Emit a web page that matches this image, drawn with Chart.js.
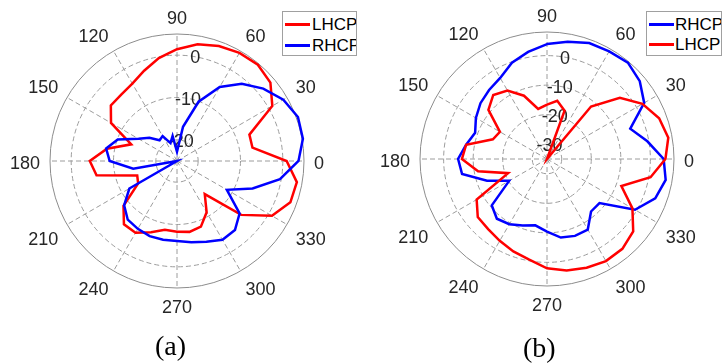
<!DOCTYPE html>
<html>
<head>
<meta charset="utf-8">
<script src="https://cdn.jsdelivr.net/npm/chart.js@4"></script>
<style>
  body { margin: 0; background: #fff; }
  #wrap { position: relative; width: 722px; height: 363px; overflow: hidden; font-family: "Liberation Sans", Arial, sans-serif; }
  canvas { position: absolute; top: 0; }
  .legend { position: absolute; background: #fff; border: 1px solid #a0a0a0; overflow: hidden; box-sizing: border-box; }
  .legend .ln { position: absolute; height: 3px; width: 25px; }
  .legend .tx { position: absolute; font-size: 17px; line-height: 17px; color: #000; white-space: nowrap; }
  .cap { position: absolute; font-family: "Liberation Serif", "Times New Roman", serif; font-size: 28px; line-height: 28px; color: #000; }
</style>
</head>
<body>
<div id="wrap">
  <canvas id="chartA" width="361" height="363" style="left:0"></canvas>
  <canvas id="chartB" width="361" height="363" style="left:361px"></canvas>

  <div class="legend" style="left:282px; top:11px; width:75px; height:45px;">
    <div class="ln" style="left:2px; top:11px; background:#ff0000"></div>
    <div class="tx" style="left:29px; top:4px">LHCP</div>
    <div class="ln" style="left:2px; top:32px; background:#0000ff"></div>
    <div class="tx" style="left:29px; top:25px">RHCP</div>
  </div>
  <div class="legend" style="left:646px; top:11px; width:76px; height:45px;">
    <div class="ln" style="left:2px; top:11px; background:#0000ff"></div>
    <div class="tx" style="left:28px; top:4px">RHCP</div>
    <div class="ln" style="left:2px; top:31px; background:#ff0000"></div>
    <div class="tx" style="left:28px; top:24px">LHCP</div>
  </div>

  <div class="cap" style="left:155px; top:332px">(a)</div>
  <div class="cap" style="left:523px; top:334px">(b)</div>
</div>

<script>
// angles in degrees, counter-clockwise from 0 (right)
const angles = [0, 10, 20, 30, 40, 50, 60, 70, 80, 90, 100, 110, 120, 130, 140, 150, 160, 170,
                180, 190, 200, 210, 220, 230, 240, 250, 260, 270, 280, 290, 300, 310, 320, 330, 340, 350];

// (a) gain in dB
const lhcpA = [0.9, -6.9, -6.8, 1.0, 3.8, 4.7, 4.5, 3.9, 3.0, 1.4,
               -0.3, -2.3, -3.9, -4.5, -4.6, -7.0, -13.5, -8.2, -4.4, -5.7,
               -15.0, -14.4, -8.5, -5.5, -5.4, -7.1, -8.5, -8.3, -8.0, -8.5,
               -11.0, -14.8, -5.2, 0.9, 3.5, 3.75];
const rhcpA = [3.7, 5.2, 5.4, 4.0, 1.6, -1.2, -4.8, -10.1, -16.8, -22.8,
               -19.0, -20.5, -18.2, -18.6, -16.5, -14.5, -10.1, -8.0, -9.1, -14.5,
               -25, -12.0, -8.7, -6.9, -6.5, -6.1, -6.1, -6.1, -5.5, -4.7,
               -3.5, -3.7, -5.7, -11.4, -6.0, -0.3];

// (b) gain in dB
const rhcpB = [4.5, -0.5, -5.0, 3.0, 6.0, 7.6, 7.1, 6.8, 5.3, 3.9,
               1.8, -0.3, -3.3, -4.5, -5.6, -7.2, -9.1, -7.2, -4.9, -5.8,
               -13.4, -20.2, -10.6, -8.6, -9.5, -11.0, -12.2, -10.4, -8.0, -7.3,
               -7.4, -11.8, -11.8, -0.6, 4.0, 5.8];
const lhcpB = [5.1, 6.7, 5.4, 2.3, -2.8, -11.8, -35, -17.6, -15.0, -16.6,
               -17.8, -12.2, -8.2, -6.7, -9.1, -16.6, -15.5, -7.2, -6.2, -11.3,
               -21.0, -7.5, -4.4, -4.0, -3.0, -1.7, -0.4, 2.0, 3.3, 4.2,
               4.9, 4.7, 3.1, -1.6, -8.2, 0.6];

// radial ticks (first = centre, last = outer circle)
const ticksA = [-25, -20, -10, 0, 5];
const ticksB = [-35, -30, -20, -10, 0, 8];

// radar goes clockwise from the top, so index i sits at 90 - 10*i degrees
const radarAngles = angles.map((a, i) => (90 - i * 10 + 360) % 360);
function toRadar(series) {
    return radarAngles.map(a => series[angles.indexOf(a)]);
}

const textColor = '#262626';
const polarText = {
    id: 'polarText',
    beforeDatasetsDraw(chart) {
        const s = chart.scales.r;
        const ctx = chart.ctx;
        ctx.save();
        ctx.fillStyle = textColor;
        ctx.font = '18px "Liberation Sans", Arial, sans-serif';
        // theta labels every 30 degrees
        chart.data.labels.forEach((lab, i) => {
            if (lab % 30 !== 0) return;
            const p = s.getPointPosition(i, s.drawingArea + 10);
            const c = Math.cos(p.angle), sn = Math.sin(p.angle);
            ctx.textAlign = Math.abs(c) < 0.05 ? 'center' : (c > 0 ? 'left' : 'right');
            let y = p.y;
            if (sn < -0.05) {
                ctx.textBaseline = 'alphabetic';
            } else if (sn > 0.05) {
                ctx.textBaseline = 'top';
                y += 1.5;
            } else {
                ctx.textBaseline = 'alphabetic';
                y += 8;
            }
            ctx.fillText(String(lab), p.x, y);
        });
        // r tick labels along 80 degrees, under the curves
        const ticks = s.ticks.map(t => t.value);
        ctx.textAlign = 'center';
        ctx.textBaseline = 'alphabetic';
        ticks.slice(1, -1).forEach(v => {
            const p = s.getPointPosition(1, s.getDistanceFromCenterForValue(v));
            ctx.fillText(String(v), p.x, p.y + 6.5);
        });
        ctx.restore();
    }
};

function makePolar(id, sets, ticks, pad) {
    const last = ticks.length - 1;
    return new Chart(document.getElementById(id), {
        type: 'radar',
        data: {
            labels: radarAngles,
            datasets: sets.map(d => ({
                label: d.label,
                data: toRadar(d.data),
                borderColor: d.color,
                borderWidth: 2.5,
                pointRadius: 0,
                fill: false,
                tension: 0,
                clip: false,
                order: d.order,
            })),
        },
        options: {
            responsive: false,
            animation: false,
            layout: {padding: pad},
            plugins: {
                legend: {display: false},
                tooltip: {enabled: false},
            },
            scales: {
                r: {
                    min: ticks[0],
                    max: ticks[last],
                    startAngle: 0,
                    afterBuildTicks: axis => {
                        axis.ticks = ticks.map(v => ({value: v}));
                    },
                    ticks: {display: false},
                    pointLabels: {display: false},
                    grid: {
                        circular: true,
                        color: ctx => ctx.index === last ? '#8c8c8c' : '#9c9c9c',
                        lineWidth: 1,
                    },
                    border: {
                        dash: ctx => ctx.index === last ? [] : [5, 3],
                    },
                    angleLines: {
                        display: true,
                        color: ctx => radarAngles[ctx.index] % 30 === 0 ? '#9c9c9c' : 'rgba(0,0,0,0)',
                        lineWidth: ctx => radarAngles[ctx.index] % 30 === 0 ? 1 : 0,
                        borderDash: [5, 3],
                    },
                },
            },
        },
        plugins: [polarText],
    });
}

makePolar('chartA', [
    {label: 'LHCP', data: lhcpA, color: '#ff0000', order: 1},
    {label: 'RHCP', data: rhcpA, color: '#0000ff', order: 0},
], ticksA, {left: 50, top: 34, right: 57, bottom: 75});

makePolar('chartB', [
    {label: 'RHCP', data: rhcpB, color: '#0000ff', order: 1},
    {label: 'LHCP', data: lhcpB, color: '#ff0000', order: 0},
], ticksB, {left: 59, top: 32, right: 48, bottom: 77});
</script>
</body>
</html>
